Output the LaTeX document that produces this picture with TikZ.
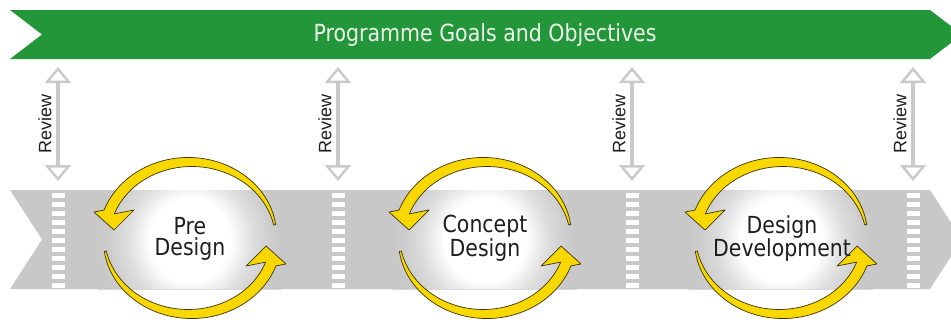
\documentclass[tikz,border=0pt]{standalone}
\usepackage{fontspec}
\setmainfont[FakeStretch=0.87]{DejaVu Sans}
\newfontfamily\reviewfont{Liberation Sans}
\usetikzlibrary{arrows.meta}
\definecolor{bandgreen}{RGB}{35,150,57}
\definecolor{titletext}{RGB}{236,246,236}
\definecolor{bandgray}{RGB}{200,200,200}
\definecolor{revgray}{RGB}{202,202,202}
\definecolor{cycyellow}{RGB}{248,216,0}
\definecolor{cycedge}{RGB}{60,52,10}
\definecolor{labeltext}{RGB}{30,30,30}
\definecolor{glowmid}{RGB}{222,222,222}
\definecolor{glowout}{RGB}{205,205,205}
\pgfdeclareradialshading{glow}{\pgfpoint{0bp}{0bp}}{color(0bp)=(white); color(11bp)=(white); color(17bp)=(glowmid); color(22bp)=(glowout); color(25bp)=(bandgray); color(50bp)=(bandgray)}
\tikzset{
  revtip/.tip={Triangle[open,length=16pt,width=26pt,line width=2.5pt]},
  reviewarrow/.style={draw=revgray,line width=4pt,revtip-revtip},
  reviewlabel/.style={rotate=90,text=labeltext,font=\reviewfont\fontsize{18}{20}\selectfont,inner sep=0pt},
  phaselabel/.style={align=center,text=labeltext,font=\fontsize{23.5}{21.5}\selectfont,inner sep=0pt},
  cycarrow/.style={fill=cycyellow,draw=cycedge,line width=0.7pt,line join=round},
  cyclepair/.pic={
    \path[cycarrow] plot[domain=10:160,samples=40,smooth] ({(86+wd(\x)/2)*cos(\x)},{(76+wd(\x)/2)*sin(\x)})
      -- (-96,26) -- (-76,8) -- (-56,28)
      -- plot[domain=160:10,samples=40,smooth] ({(86-wd(\x)/2)*cos(\x)},{(76-wd(\x)/2)*sin(\x)}) -- cycle;
    \path[cycarrow,rotate=180] plot[domain=10:160,samples=40,smooth] ({(86+wd(\x)/2)*cos(\x)},{(76+wd(\x)/2)*sin(\x)})
      -- (-96,26) -- (-76,8) -- (-56,28)
      -- plot[domain=160:10,samples=40,smooth] ({(86-wd(\x)/2)*cos(\x)},{(76-wd(\x)/2)*sin(\x)}) -- cycle;
  }
}
\begin{document}
\begin{tikzpicture}[x=1pt,y=1pt,
  declare function={wd(\t)=2+9*(1-(1-(\t-10)/150)*(1-(\t-10)/150));}]
\useasboundingbox (0,0) rectangle (951,325);
% green goals band
\fill[bandgreen] (10,315) -- (930,315) -- (962,290.5) -- (930,266) -- (10,266) -- (42,290.5) -- cycle;
\node[text=titletext,font=\fontsize{23.6}{28}\selectfont,inner sep=0pt] (goals) at (485,290.5) {Programme Goals and Objectives};
% gray process band
\fill[bandgray] (10,135) -- (930,135) -- (962,85.5) -- (930,36) -- (10,36) -- (42,85.5) -- cycle;
% glows
\begin{scope}
  \clip (10,135) -- (930,135) -- (962,85.5) -- (930,36) -- (10,36) -- (42,85.5) -- cycle;
  \foreach \cx in {190,485,781} {
    \fill[shading=glow] (\cx-92,-10) rectangle (\cx+92,180);
  }
\end{scope}
% review gates
\foreach \i/\gx in {1/58,2/338,3/632,4/913} {
  \foreach \k in {0,...,10} {
    \fill[white] (\gx-6.5,132-9*\k) rectangle ++(13,-5);
  }
  \coordinate (rt\i) at (\gx,258);
  \coordinate (rb\i) at (\gx,144);
  \draw[reviewarrow] (rt\i) -- (rb\i);
  \node[reviewlabel] (rev\i) at (\gx-13,201) {Review};
}
% cycles
\pic at (190,87) {cyclepair};
\pic at (485,87) {cyclepair};
\pic at (781,87) {cyclepair};
\node[phaselabel] (pre) at (190,86) {Pre\\Design};
\node[phaselabel] (concept) at (485,87) {Concept\\Design};
\node[phaselabel] (dev) at (782,86.5) {Design\\Development};
\end{tikzpicture}
\end{document}
